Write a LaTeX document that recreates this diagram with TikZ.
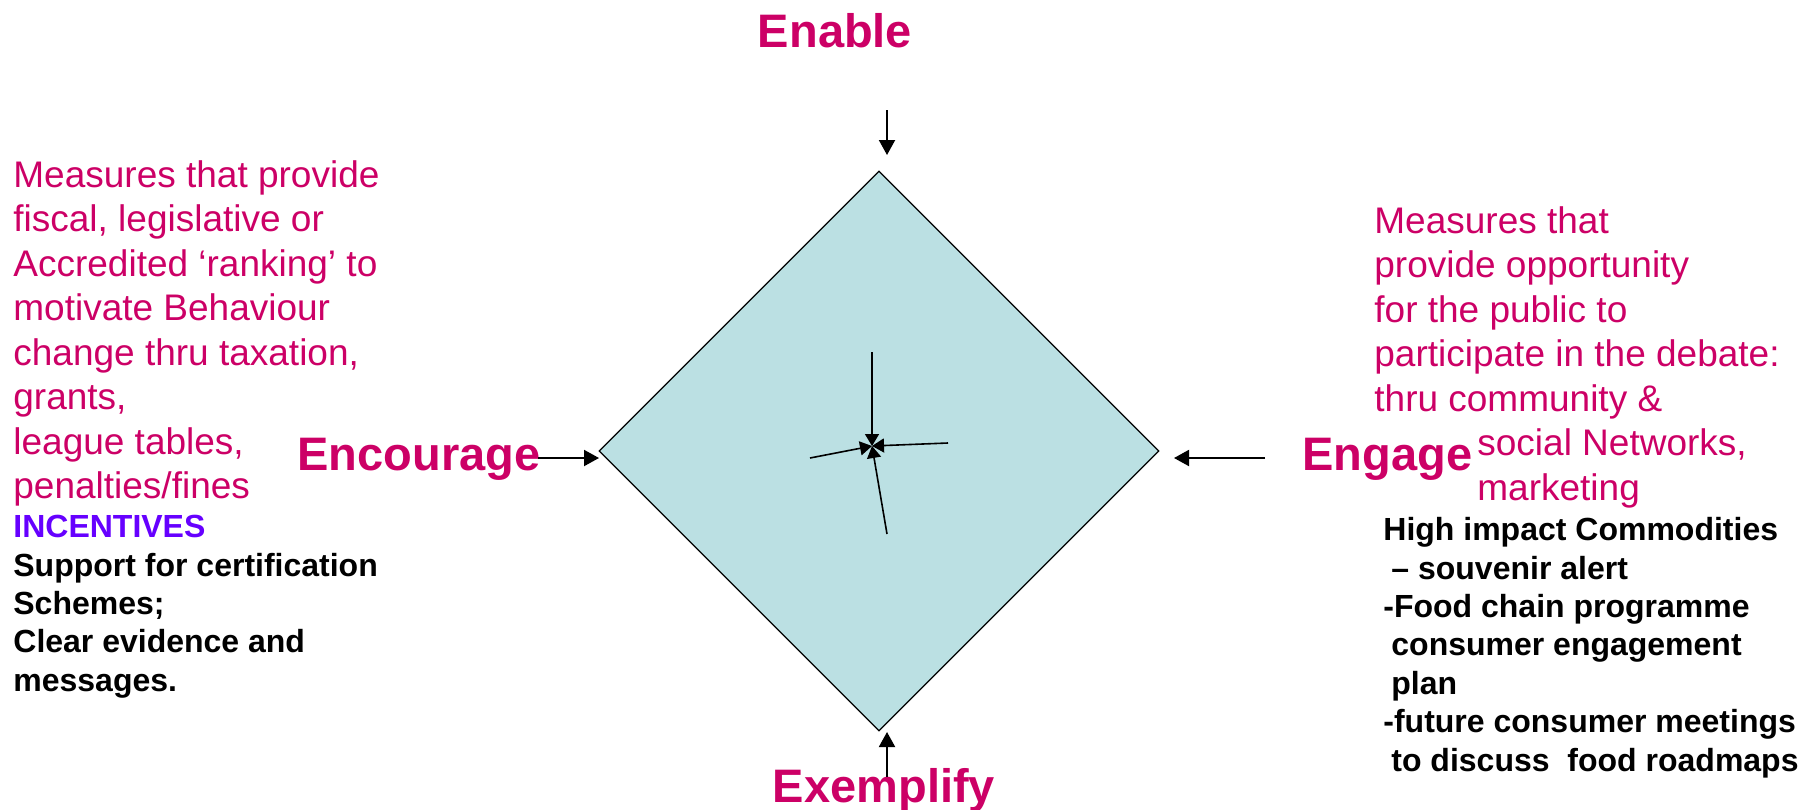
\documentclass[tikz,border=0pt]{standalone}
\usepackage{fontspec}
\setmainfont{Liberation Sans}
\usepackage{tikz}
\usepackage{xcolor}
\usetikzlibrary{shapes.geometric,arrows.meta}

\definecolor{titlepink}{RGB}{204,0,102}
\definecolor{incpurple}{RGB}{102,0,255}
\definecolor{dialight}{RGB}{187,224,227}

\begin{document}
\begin{tikzpicture}[x=0.5pt,y=-0.5pt,
    title/.style={font=\fontsize{23.5}{28}\selectfont\bfseries,text=titlepink,inner sep=0},
    pinktext/.style={font=\fontsize{18.5}{22.25}\selectfont,text=titlepink,align=left,inner sep=0,anchor=north west},
    blacktext/.style={font=\fontsize{16}{19.2}\selectfont\bfseries,align=left,inner sep=0,anchor=north west},
    bigarrow/.style={line width=1pt,-{Triangle[length=7.5pt,width=8pt]}},
    hubarrow/.style={line width=0.8pt,-{Triangle[length=6pt,width=7pt]}}]
  % --- page: 1813 x 809, y runs downwards ---
  \useasboundingbox (0,0) rectangle (1813,809);
  % --- diamond, centre (879,451), 560 wide ---
  \node[diamond,draw,line width=0.6pt,fill=dialight,minimum width=280pt,
        minimum height=280pt,inner sep=0] (dia) at (879,451) {};
  % hub of the four small arrows in the middle
  \coordinate (hub) at (872,446);
  \coordinate (hubN) at (872,352);
  \coordinate (hubE) at (948,443);
  \coordinate (hubW) at (810,458);
  \coordinate (hubS) at (887,534);
  \draw[hubarrow] (hubN) -- (hub);
  \draw[hubarrow] (hubE) -- (hub);
  \draw[hubarrow] (hubW) -- (hub);
  \draw[hubarrow] (hubS) -- (hub);
  % --- the four labels round the diamond ---
  \node[title,anchor=base] (enable) at (835,47) {Enable};
  \node[title,anchor=base] (exemplify) at (884,802) {Exemplify};
  \node[title,anchor=base west] (encourage) at (297,470) {Encourage};
  \node[title,anchor=base west] (engage) at (1302,470) {Engage};
  % arrows towards the diamond
  \coordinate (entail) at (887,110);
  \coordinate (enhead) at (887,155);
  \coordinate (extail) at (887,777);
  \coordinate (exhead) at (887,732);
  \coordinate (enctail) at (538,458);
  \coordinate (enchead) at (599,458);
  \coordinate (engtail) at (1265,458);
  \coordinate (enghead) at (1174,458);
  \draw[bigarrow] (entail) -- (enhead);
  \draw[bigarrow] (extail) -- (exhead);
  \draw[bigarrow] (enctail) -- (enchead);
  \draw[bigarrow] (engtail) -- (enghead);
  % --- left side text ---
  \node[pinktext] (leftmeasures) at (13,160) {Measures that provide\\
    fiscal, legislative or\\
    Accredited ‘ranking’ to\\
    motivate Behaviour\\
    change thru taxation,\\
    grants,\\
    league tables,\\
    penalties/fines};
  \node[blacktext] (incentives) at (13,515) {{\color{incpurple}INCENTIVES}\\
    Support for certification\\
    Schemes;\\
    Clear evidence and\\
    messages.};
  % --- right side text ---
  \node[pinktext] (rightmeasures) at (1374,206) {Measures that\\
    provide opportunity\\
    for the public to\\
    participate in the debate:\\
    thru community \&\\
    \hspace*{51.5pt}social Networks,\\
    \hspace*{51.5pt}marketing};
  \node[blacktext] (commodities) at (1383,517) {High impact Commodities\\
    \hspace*{4pt}– souvenir alert\\
    -Food chain programme\\
    \hspace*{4pt}consumer engagement\\
    \hspace*{4pt}plan\\
    -future consumer meetings\\
    \hspace*{4pt}to discuss\ \ food roadmaps};
\end{tikzpicture}
\end{document}
